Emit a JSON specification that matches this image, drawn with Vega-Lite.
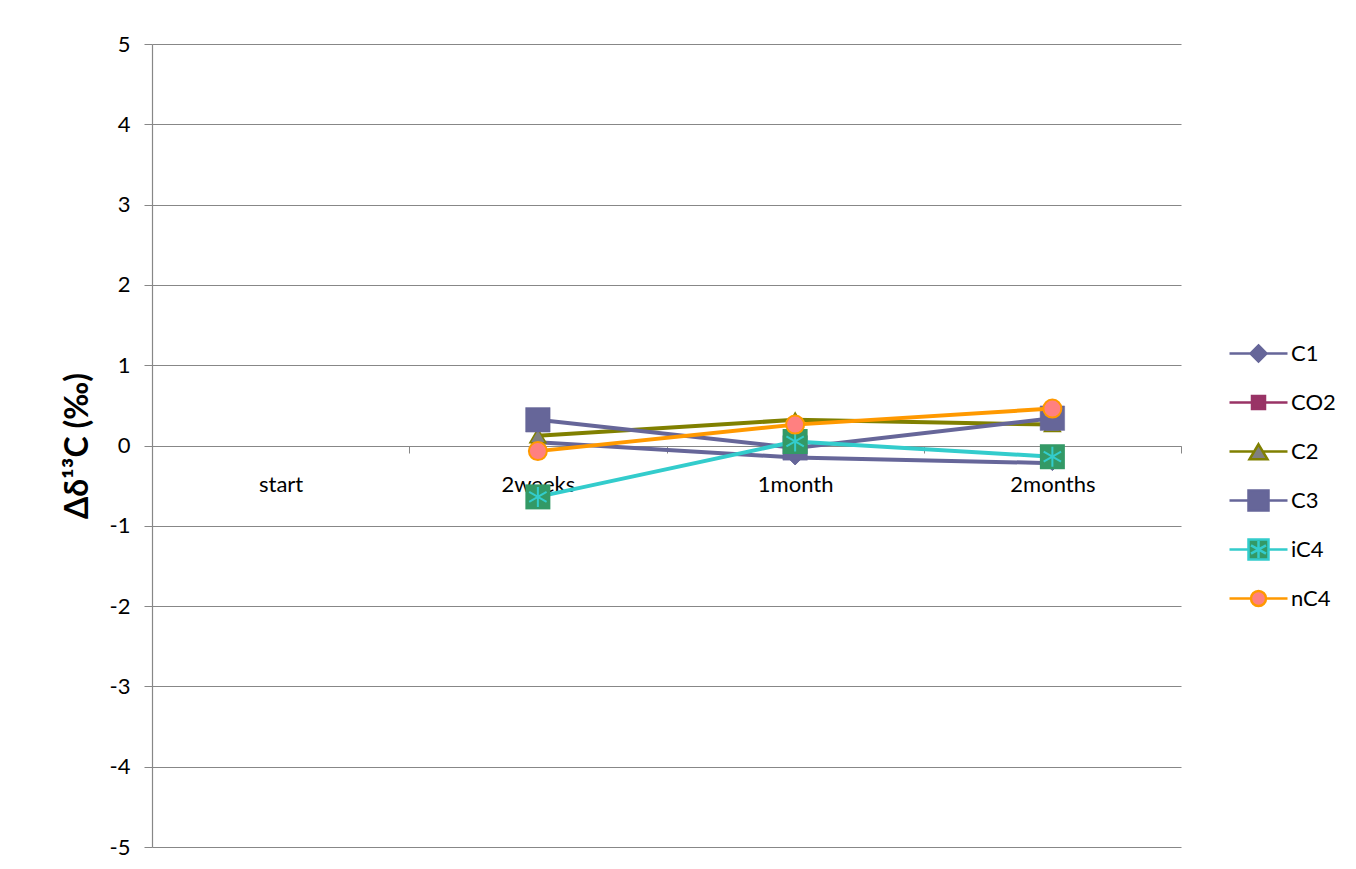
{
  "$schema": "https://vega.github.io/schema/vega-lite/v6.json",
  "width": 1029,
  "height": 803,
  "autosize": {"type": "none"},
  "padding": {"left": 152, "top": 44, "right": 175, "bottom": 22},
  "background": "white",
  "config": {
    "font": "Lato",
    "view": {"stroke": null},
    "axis": {"labelFont": "Lato", "titleFont": "Lato", "labelColor": "#000000", "titleColor": "#000000"}
  },
  "data": {
    "values": [
      {"time": "2weeks", "series": "C1", "value": 0.04},
      {"time": "1month", "series": "C1", "value": -0.15},
      {"time": "2months", "series": "C1", "value": -0.22},
      {"time": "2weeks", "series": "C2", "value": 0.12},
      {"time": "1month", "series": "C2", "value": 0.32},
      {"time": "2months", "series": "C2", "value": 0.26},
      {"time": "2weeks", "series": "C3", "value": 0.32},
      {"time": "1month", "series": "C3", "value": -0.03},
      {"time": "2months", "series": "C3", "value": 0.34},
      {"time": "2weeks", "series": "iC4", "value": -0.64},
      {"time": "1month", "series": "iC4", "value": 0.05},
      {"time": "2months", "series": "iC4", "value": -0.14},
      {"time": "2weeks", "series": "nC4", "value": -0.07},
      {"time": "1month", "series": "nC4", "value": 0.26},
      {"time": "2months", "series": "nC4", "value": 0.46}
    ]
  },
  "encoding": {
    "x": {
      "field": "time", "type": "nominal",
      "scale": {"type": "band", "domain": ["start", "2weeks", "1month", "2months"], "paddingInner": 0, "paddingOuter": 0},
      "axis": {
        "orient": "bottom", "offset": -401, "title": null, "labelAngle": 0,
        "domainColor": "#878787", "domainWidth": 1.2, "tickColor": "#878787", "tickSize": 7, "tickWidth": 1,
        "tickBand": "extent", "labelFontSize": 22, "labelPadding": 21, "grid": false
      }
    },
    "y": {
      "field": "value", "type": "quantitative",
      "scale": {"domain": [-5, 5], "nice": false, "zero": false},
      "axis": {
        "values": [-5, -4, -3, -2, -1, 0, 1, 2, 3, 4, 5],
        "labelExpr": "datum.value < 0 ? '-' + abs(datum.value) : '' + datum.value",
        "grid": true, "gridColor": "#878787", "gridWidth": 1,
        "domainColor": "#878787", "domainWidth": 1.2, "tickColor": "#878787", "tickSize": 8,
        "labelFontSize": 22, "labelPadding": 14,
        "title": "Δδ¹³C (‰)", "titleFontSize": 32, "titleFontWeight": "bold", "titlePadding": 15
      }
    }
  },
  "layer": [
    {"transform": [{"filter": "datum.series === 'C1'"}], "mark": {"type": "line", "color": "#666699", "strokeWidth": 4}},
    {"transform": [{"filter": "datum.series === 'C1'"}], "mark": {"type": "point", "shape": "diamond", "size": 220, "filled": true, "fill": "#666699", "stroke": "#666699", "strokeWidth": 1, "opacity": 1}},
    {"transform": [{"filter": "datum.series === 'C2'"}], "mark": {"type": "line", "color": "#808000", "strokeWidth": 4}},
    {"transform": [{"filter": "datum.series === 'C2'"}], "mark": {"type": "point", "shape": "triangle-up", "size": 260, "filled": true, "fill": "#808080", "stroke": "#808000", "strokeWidth": 1.5, "opacity": 1}},
    {"transform": [{"filter": "datum.series === 'C3'"}], "mark": {"type": "line", "color": "#666699", "strokeWidth": 4}},
    {"transform": [{"filter": "datum.series === 'C3'"}], "mark": {"type": "point", "shape": "square", "size": 600, "filled": true, "fill": "#666699", "stroke": "#666699", "strokeWidth": 0.5, "opacity": 1}},
    {"transform": [{"filter": "datum.series === 'iC4'"}], "mark": {"type": "line", "color": "#33cccc", "strokeWidth": 4}},
    {"transform": [{"filter": "datum.series === 'iC4'"}], "mark": {"type": "point", "shape": "square", "size": 625, "filled": true, "fill": "#339966", "strokeWidth": 0, "opacity": 1}},
    {"transform": [{"filter": "datum.series === 'iC4'"}], "mark": {"type": "point", "shape": "M0,-1V1M-0.87,-0.5L0.87,0.5M-0.87,0.5L0.87,-0.5", "size": 400, "filled": false, "stroke": "#33cccc", "strokeWidth": 2, "opacity": 1}},
    {"transform": [{"filter": "datum.series === 'nC4'"}], "mark": {"type": "line", "color": "#ff9900", "strokeWidth": 4}},
    {"transform": [{"filter": "datum.series === 'nC4'"}], "mark": {"type": "point", "shape": "circle", "size": 324, "filled": true, "fill": "#ff8080", "stroke": "#ff9900", "strokeWidth": 2, "opacity": 1}},
    {
      "transform": [{"filter": "false"}],
      "mark": {"type": "point", "filled": true, "opacity": 1},
      "encoding": {
        "shape": {
          "field": "series", "type": "nominal",
          "scale": {
            "domain": ["C1", "CO2", "C2", "C3", "iC4", "nC4"],
            "range": [
              "M-2.9,0H-0.8M0.8,0H2.9M0,-0.8L0.8,0L0,0.8L-0.8,0Z",
              "M-2.9,0H-0.65M0.65,0H2.9M-0.65,-0.65H0.65V0.65H-0.65Z",
              "M-2.9,0H-0.5M0.5,0H2.9M0,-0.72L0.9,0.78H-0.9Z",
              "M-2.9,0H-1M1,0H2.9M-1,-1H1V1H-1Z",
              "M-2.9,0H-1M1,0H2.9M-1,-1H1V1H-1ZM0,-0.85V0.85M-0.75,-0.42L0.75,0.42M-0.75,0.42L0.75,-0.42",
              "M-2.9,0H-0.75M0.75,0H2.9M0.75,0A0.75,0.75,0,1,1,-0.75,0A0.75,0.75,0,1,1,0.75,0Z"
            ]
          },
          "legend": {"orient": "none", "legendX": 1095, "legendY": 298, "title": null, "symbolSize": 400, "symbolStrokeWidth": 2.5, "labelFont": "Lato", "labelFontSize": 22, "labelColor": "#000000", "labelOffset": 21, "rowPadding": 18, "gridAlign": "all", "padding": 0, "symbolOpacity": 1}
        },
        "fill": {
          "field": "series", "type": "nominal",
          "scale": {"domain": ["C1", "CO2", "C2", "C3", "iC4", "nC4"], "range": ["#666699", "#993366", "#808080", "#666699", "#339966", "#ff8080"]},
          "legend": {"orient": "none", "legendX": 1095, "legendY": 298, "title": null, "symbolSize": 400, "symbolStrokeWidth": 2.5, "labelFont": "Lato", "labelFontSize": 22, "labelColor": "#000000", "labelOffset": 21, "rowPadding": 18, "gridAlign": "all", "padding": 0, "symbolOpacity": 1}
        },
        "stroke": {
          "field": "series", "type": "nominal",
          "scale": {"domain": ["C1", "CO2", "C2", "C3", "iC4", "nC4"], "range": ["#666699", "#993366", "#808000", "#666699", "#33cccc", "#ff9900"]},
          "legend": {"orient": "none", "legendX": 1095, "legendY": 298, "title": null, "symbolSize": 400, "symbolStrokeWidth": 2.5, "labelFont": "Lato", "labelFontSize": 22, "labelColor": "#000000", "labelOffset": 21, "rowPadding": 18, "gridAlign": "all", "padding": 0, "symbolOpacity": 1}
        }
      }
    }
  ]
}
